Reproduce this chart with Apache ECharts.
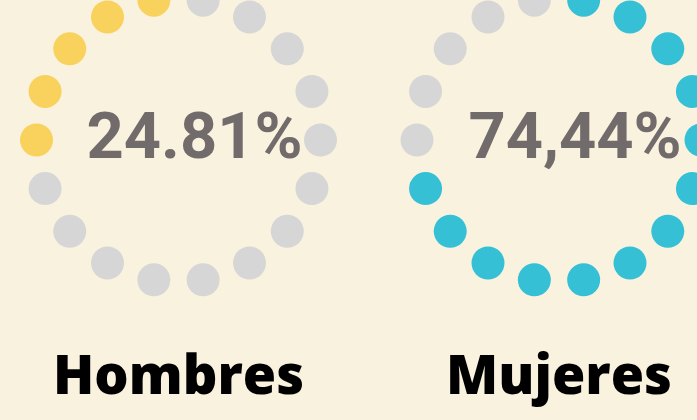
<!DOCTYPE html>
<html>
<head>
<meta charset="utf-8">
<style>
  html, body { margin: 0; padding: 0; background: #f9f2df; }
  #main { width: 697px; height: 420px; }
</style>
<script src="https://cdn.jsdelivr.net/npm/echarts@6/dist/echarts.min.js"></script>
</head>
<body>
<div id="main"></div>
<script>
  // 18 puntos por círculo, empezando arriba y girando en sentido horario
  var dotSlots = ['0','1','2','3','4','5','6','7','8','9','10','11','12','13','14','15','16','17'];
  // 1 = punto relleno, 0 = punto gris
  var hombresDots = [0,0,0,0,0,0,0,0,0,0,0,0,0,1,1,1,1,1];
  var mujeresDots = [1,1,1,1,1,1,1,1,1,1,1,1,1,0,0,0,0,0];
  var percentLabels = ['24.81%', '74,44%'];
  var groupNames = ['Hombres', 'Mujeres'];
  var fillColors = ['#f9d25e', '#35c0d6'];
  var grayColor = '#d6d6d6';

  var centers = [[178.5, 140], [559, 140]];

  function dotData(states, want) {
    var out = [];
    states.forEach(function (s, i) {
      if (s === want) out.push([1, dotSlots[i]]);
    });
    return out;
  }

  var polar = [], angleAxis = [], radiusAxis = [], series = [], graphic = [];
  [hombresDots, mujeresDots].forEach(function (states, k) {
    polar.push({ center: centers[k], radius: 142 });
    angleAxis.push({
      polarIndex: k, type: 'category', data: dotSlots, startAngle: 90, clockwise: true,
      axisLine: { show: false }, axisTick: { show: false }, axisLabel: { show: false }, splitLine: { show: false }
    });
    radiusAxis.push({
      polarIndex: k, type: 'value', min: 0, max: 1,
      axisLine: { show: false }, axisTick: { show: false }, axisLabel: { show: false }, splitLine: { show: false }
    });
    series.push({
      type: 'scatter', coordinateSystem: 'polar', polarIndex: k,
      symbolSize: 33, itemStyle: { color: grayColor, opacity: 1 },
      data: dotData(states, 0), silent: true
    });
    series.push({
      type: 'scatter', coordinateSystem: 'polar', polarIndex: k,
      symbolSize: 33, itemStyle: { color: fillColors[k], opacity: 1 },
      data: dotData(states, 1), silent: true
    });
    graphic.push({
      type: 'text', x: centers[k][0] + 16, y: 142,
      style: {
        text: percentLabels[k], fill: '#716c6b', font: 'bold 65px Roboto',
        align: 'center', verticalAlign: 'middle'
      }
    });
    graphic.push({
      type: 'text', x: centers[k][0], y: 379,
      style: {
        text: groupNames[k], fill: '#000000', font: '800 54px "Open Sans"',
        align: 'center', verticalAlign: 'middle'
      }
    });
  });

  var myChart = echarts.init(document.getElementById('main'));
  myChart.setOption({
    backgroundColor: '#f9f2df',
    animation: false,
    polar: polar,
    angleAxis: angleAxis,
    radiusAxis: radiusAxis,
    series: series,
    graphic: graphic
  });
</script>
</body>
</html>
